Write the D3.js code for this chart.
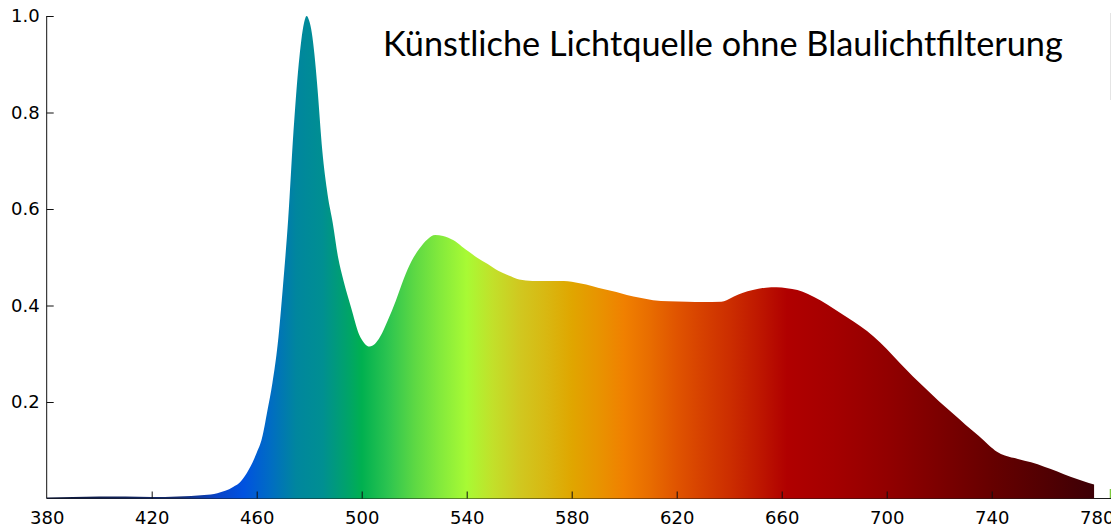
<!DOCTYPE html>
<html>
<head>
<meta charset="utf-8">
<script src="https://cdn.jsdelivr.net/npm/d3@7/dist/d3.min.js"></script>
<style>
  html, body { margin: 0; padding: 0; background: #fff; }
  svg { display: block; }
</style>
</head>
<body>
<svg id="chart" width="1111" height="530"></svg>
<script>
// ---- data ----
const titleText = "Künstliche Lichtquelle ohne Blaulichtfilterung";
const wavelengths = [380,390,400,410,420,425,430,435,440,445,448,451,454,457,460,462,464,466,468,470,472,474,476,478,479,480,481,482,483,485,487,489,491,493,496,499,501,503,505,507,510,513,516,519,522,525,528,531,535,538,541,544,548,552,556,560,565,570,577,583,588,592,597,601,606,611,617,624,630,637,639,642,645,649,654,658,662,666,670,675,680,685,690,695,700,705,710,715,720,725,730,735,739,742,745,750,755,760,765,770,775,779];
const intensity   = [0.002,0.003,0.004,0.004,0.003,0.003,0.004,0.005,0.007,0.011,0.016,0.024,0.036,0.060,0.095,0.125,0.18,0.24,0.32,0.44,0.58,0.76,0.90,0.985,1.0,0.99,0.965,0.92,0.86,0.72,0.63,0.57,0.50,0.453,0.395,0.34,0.322,0.315,0.32,0.335,0.37,0.41,0.455,0.492,0.518,0.537,0.546,0.544,0.535,0.523,0.511,0.499,0.486,0.472,0.462,0.454,0.451,0.451,0.451,0.446,0.440,0.434,0.428,0.422,0.416,0.411,0.409,0.408,0.407,0.408,0.411,0.419,0.426,0.432,0.437,0.438,0.436,0.432,0.424,0.41,0.393,0.375,0.357,0.336,0.31,0.281,0.253,0.227,0.201,0.177,0.153,0.13,0.11,0.097,0.089,0.082,0.075,0.066,0.056,0.045,0.036,0.029];
const xTickValues = [380,420,460,500,540,580,620,660,700,740,780];
const yTickValues = [0.2,0.4,0.6,0.8,1.0];
const colorStopNm = [380,430,445,455,465,475,485,495,500,510,520,530,540,550,560,570,580,590,600,610,620,630,640,650,662,680,700,720,740,760,780];
const colorStopHex = ["#0c1638","#122a70","#0a44c8","#0052e0","#006cc4","#00869e","#008f92","#00a468","#00b050","#2cc450","#5cd844","#84ea3c","#a8fa34","#c2e02a","#d0c820","#d8b812","#e0a600","#e89400","#f08000","#e86c00","#e05400","#d64000","#cc2e00","#c01a00","#b00000","#a40000","#920000","#7c0000","#660000","#520002","#3c0006"];

// ---- chart ----
const W = 1111, H = 530;
const svg = d3.select("#chart");
const x = d3.scaleLinear().domain([380, 780]).range([46.7, 1096.7]);
const y = d3.scaleLinear().domain([0, 1]).range([498.5, 16]);

const data = wavelengths.map((w, i) => ({w, v: intensity[i]}));

const defs = svg.append("defs");
const grad = defs.append("linearGradient")
  .attr("id", "spec")
  .attr("gradientUnits", "userSpaceOnUse")
  .attr("x1", x(380)).attr("x2", x(780)).attr("y1", 0).attr("y2", 0);
colorStopNm.forEach((nm, i) => {
  grad.append("stop").attr("offset", (nm - 380) / 400).attr("stop-color", colorStopHex[i]);
});

// bottom axis line (under the fill)
svg.append("line")
  .attr("x1", x(380)).attr("x2", W).attr("y1", y(0)).attr("y2", y(0))
  .attr("stroke", "#1a1a1a").attr("stroke-width", 1.2);

const area = d3.area()
  .x(d => x(d.w)).y0(y(0)).y1(d => y(d.v))
  .curve(d3.curveMonotoneX);

svg.append("path").datum(data)
  .attr("d", area)
  .attr("fill", "url(#spec)");

// axes
const fontFam = "'DejaVu Sans', Verdana, sans-serif";
const xAxis = d3.axisBottom(x).tickValues(xTickValues).tickSize(-7).tickPadding(13).tickFormat(d3.format("d"));
const gx = svg.append("g").attr("transform", `translate(0,${y(0)})`).call(xAxis);
gx.select(".domain").remove();
gx.selectAll(".tick line").attr("stroke", "#111").filter(d => d === 380 || d === 780).remove();
gx.selectAll(".tick text").attr("font-family", fontFam).attr("font-size", 18).attr("fill", "#000");

const yAxis = d3.axisLeft(y).tickValues(yTickValues).tickSize(-7).tickPadding(7).tickFormat(d3.format(".1f"));
const gy = svg.append("g").attr("transform", `translate(${x(380)},0)`).call(yAxis);
gy.select(".domain").attr("stroke", "#111").attr("d", `M0,${y(1)}V${y(0)}`);
gy.selectAll(".tick line").attr("stroke", "#111");
gy.selectAll(".tick text").attr("font-family", fontFam).attr("font-size", 18).attr("fill", "#000");

// title
const t = svg.append("text")
  .attr("x", 383).attr("y", 56)
  .attr("font-family", "Lato, 'Open Sans', sans-serif")
  .attr("font-size", 32)
  .attr("fill", "#000")
  .text(titleText);
const natural = t.node().getComputedTextLength();
t.attr("font-size", 32 * 680 / natural);

// small edge marks seen in the reference
svg.append("line").attr("x1", 1110.5).attr("x2", 1110.5).attr("y1", 13).attr("y2", 100)
  .attr("stroke", "#e4e4e4").attr("stroke-width", 1);
svg.append("line").attr("x1", 1110.5).attr("x2", 1110.5).attr("y1", 489).attr("y2", 498)
  .attr("stroke", "#7cc83c").attr("stroke-width", 1.5);
</script>
</body>
</html>
